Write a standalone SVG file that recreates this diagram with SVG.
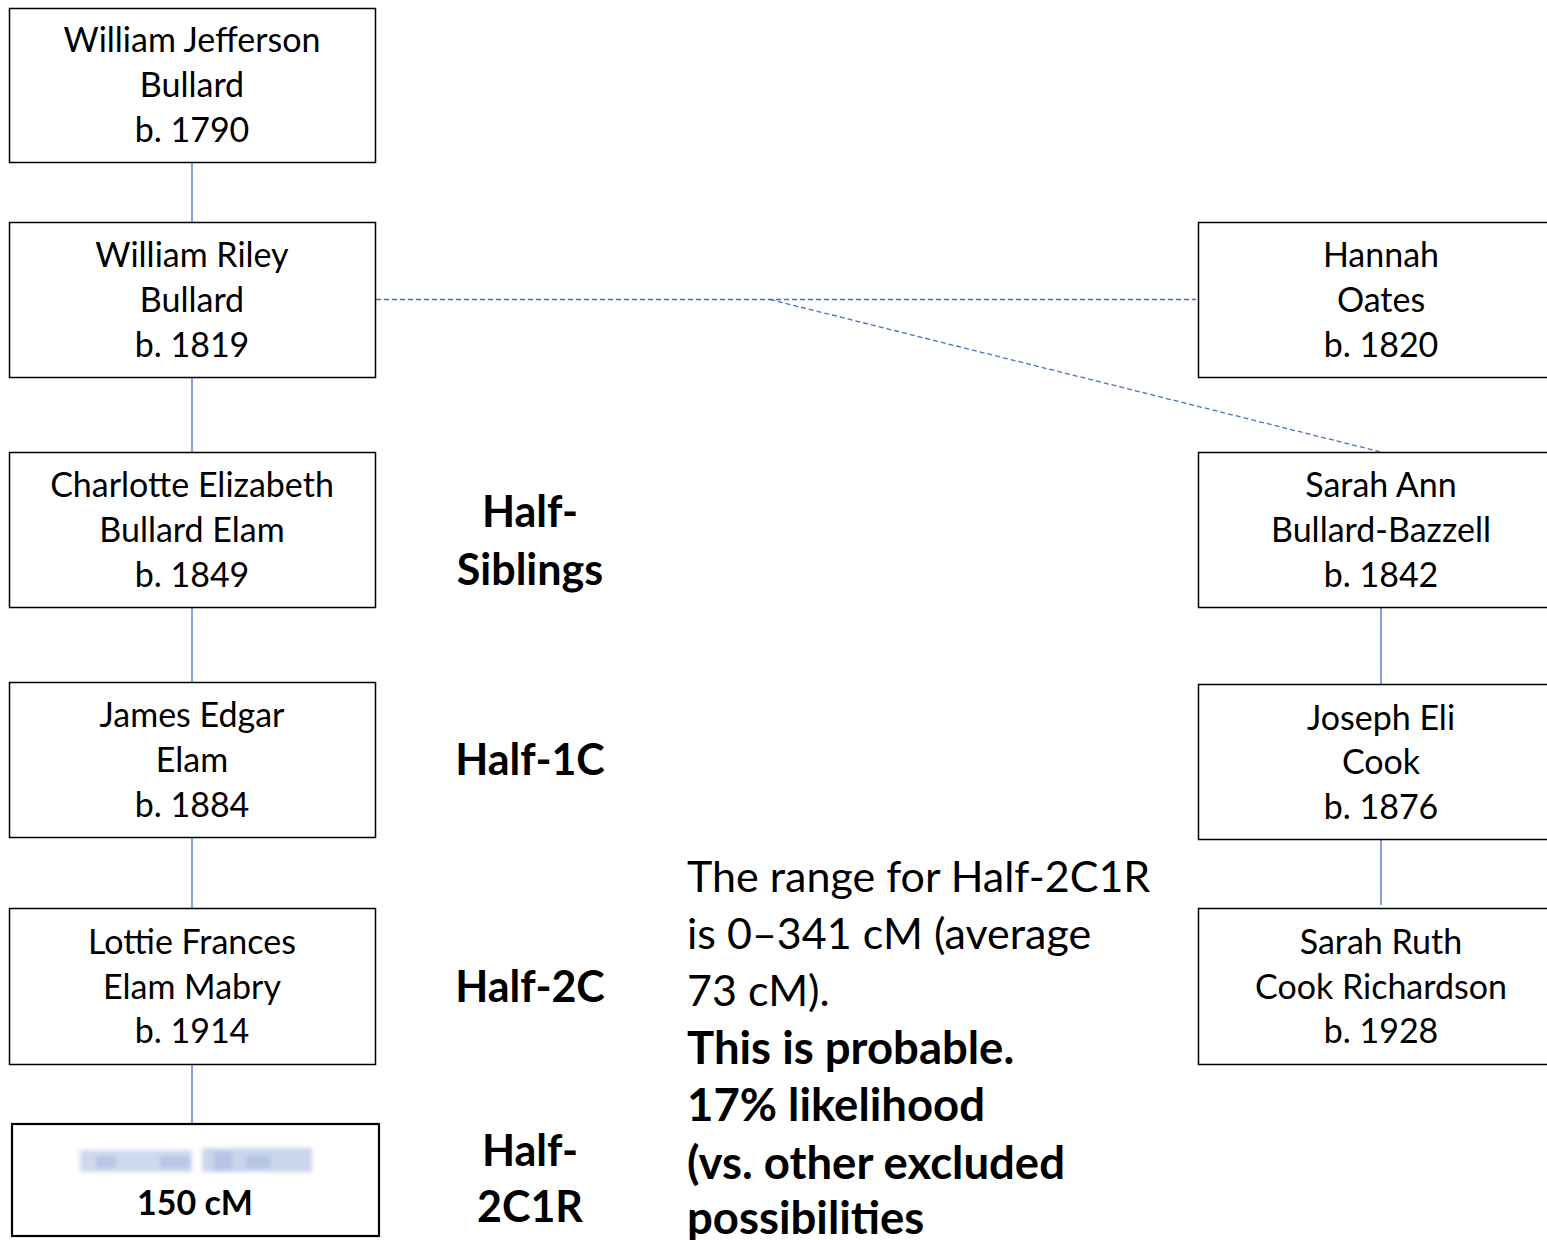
<svg xmlns="http://www.w3.org/2000/svg" width="1547" height="1240" viewBox="0 0 1547 1240">
  <style>
    .box { fill: #ffffff; stroke: #000000; stroke-width: 1.5; }
    .name { font-family: Lato, "Open Sans", sans-serif; font-size: 34px; fill: #000000; text-anchor: middle; }
    .rel { font-family: Lato, "Open Sans", sans-serif; font-size: 43px; font-weight: bold; fill: #000000; text-anchor: middle; }
    .note { font-family: Lato, "Open Sans", sans-serif; font-size: 43px; fill: #000000; }
    .note.b { font-size: 45.5px; font-weight: bold; }
    .link { stroke: #4472c4; stroke-width: 1.3; fill: none; }
    .dash { stroke: #4472c4; stroke-width: 1.3; fill: none; stroke-dasharray: 5 3; }
  </style>
  <defs>
    <filter id="soft" x="-10%" y="-30%" width="120%" height="160%">
      <feGaussianBlur stdDeviation="2"/>
    </filter>
  </defs>
  <rect width="1547" height="1240" fill="#ffffff"/>

  <g id="connectors">
    <line class="link" x1="192" y1="162" x2="192" y2="222"/>
    <line class="link" x1="192" y1="377" x2="192" y2="452"/>
    <line class="link" x1="192" y1="607" x2="192" y2="682"/>
    <line class="link" x1="192" y1="837" x2="192" y2="908"/>
    <line class="link" x1="192" y1="1064" x2="192" y2="1124"/>
    <line class="link" x1="1381" y1="607" x2="1381" y2="684"/>
    <line class="link" x1="1381" y1="837" x2="1381" y2="905"/>
    <line class="dash" x1="376" y1="299.5" x2="1196" y2="299.5"/>
    <line class="dash" x1="770" y1="299.5" x2="1381" y2="452"/>
  </g>

  <g id="n-wj-bullard">
    <rect class="box" x="9.5" y="8.5" width="366" height="154"/>
    <text class="name" x="192" y="52">William Jefferson</text>
    <text class="name" x="192" y="97">Bullard</text>
    <text class="name" x="192" y="142">b. 1790</text>
  </g>
  <g id="n-wr-bullard">
    <rect class="box" x="9.5" y="222.5" width="366" height="155"/>
    <text class="name" x="192" y="267">William Riley</text>
    <text class="name" x="192" y="312">Bullard</text>
    <text class="name" x="192" y="357">b. 1819</text>
  </g>
  <g id="n-charlotte">
    <rect class="box" x="9.5" y="452.5" width="366" height="155"/>
    <text class="name" x="192" y="497">Charlotte Elizabeth</text>
    <text class="name" x="192" y="542">Bullard Elam</text>
    <text class="name" x="192" y="587">b. 1849</text>
  </g>
  <g id="n-james">
    <rect class="box" x="9.5" y="682.5" width="366" height="155"/>
    <text class="name" x="192" y="727">James Edgar</text>
    <text class="name" x="192" y="772">Elam</text>
    <text class="name" x="192" y="817">b. 1884</text>
  </g>
  <g id="n-lottie">
    <rect class="box" x="9.5" y="908.5" width="366" height="156"/>
    <text class="name" x="192" y="954">Lottie Frances</text>
    <text class="name" x="192" y="999">Elam Mabry</text>
    <text class="name" x="192" y="1043">b. 1914</text>
  </g>
  <g id="n-match">
    <rect x="12" y="1124" width="367" height="112" fill="#ffffff" stroke="#000000" stroke-width="2.2"/>
    <!-- obscured name -->
    <g filter="url(#soft)" fill="#9fb3dc">
      <rect x="80" y="1150" width="112" height="22" opacity="0.5"/>
      <rect x="202" y="1148" width="110" height="24" opacity="0.55"/>
      <rect x="96" y="1156" width="20" height="12" opacity="0.5"/>
      <rect x="160" y="1156" width="30" height="12" opacity="0.5"/>
      <rect x="214" y="1152" width="18" height="18" opacity="0.5"/>
      <rect x="246" y="1156" width="24" height="12" opacity="0.5"/>
    </g>
    <text class="name" x="195" y="1215" font-weight="bold">150 cM</text>
  </g>

  <g id="n-hannah">
    <rect class="box" x="1198.5" y="222.5" width="360" height="155"/>
    <text class="name" x="1381" y="267">Hannah</text>
    <text class="name" x="1381" y="312">Oates</text>
    <text class="name" x="1381" y="357">b. 1820</text>
  </g>
  <g id="n-sarah-ann">
    <rect class="box" x="1198.5" y="452.5" width="360" height="155"/>
    <text class="name" x="1381" y="497">Sarah Ann</text>
    <text class="name" x="1381" y="542">Bullard-Bazzell</text>
    <text class="name" x="1381" y="587">b. 1842</text>
  </g>
  <g id="n-joseph">
    <rect class="box" x="1198.5" y="684.5" width="360" height="155"/>
    <text class="name" x="1381" y="730">Joseph Eli</text>
    <text class="name" x="1381" y="774">Cook</text>
    <text class="name" x="1381" y="819">b. 1876</text>
  </g>
  <g id="n-sarah-ruth">
    <rect class="box" x="1198.5" y="908.5" width="360" height="156"/>
    <text class="name" x="1381" y="954">Sarah Ruth</text>
    <text class="name" x="1381" y="999">Cook Richardson</text>
    <text class="name" x="1381" y="1043">b. 1928</text>
  </g>

  <g id="labels">
    <text class="rel" x="530" y="527">Half-</text>
    <text class="rel" x="530" y="585">Siblings</text>
    <text class="rel" x="530" y="775">Half-1C</text>
    <text class="rel" x="530" y="1002">Half-2C</text>
    <text class="rel" x="530" y="1166">Half-</text>
    <text class="rel" x="530" y="1222">2C1R</text>
  </g>

  <g id="note">
    <text class="note" x="687" y="892">The range for Half-2C1R</text>
    <text class="note" x="687" y="949">is 0–341 cM (average</text>
    <text class="note" x="687" y="1006">73 cM).</text>
    <text class="note b" x="687" y="1064">This is probable.</text>
    <text class="note b" x="687" y="1121">17% likelihood</text>
    <text class="note b" x="687" y="1179">(vs. other excluded</text>
    <text class="note b" x="687" y="1234">possibilities</text>
  </g>
</svg>
